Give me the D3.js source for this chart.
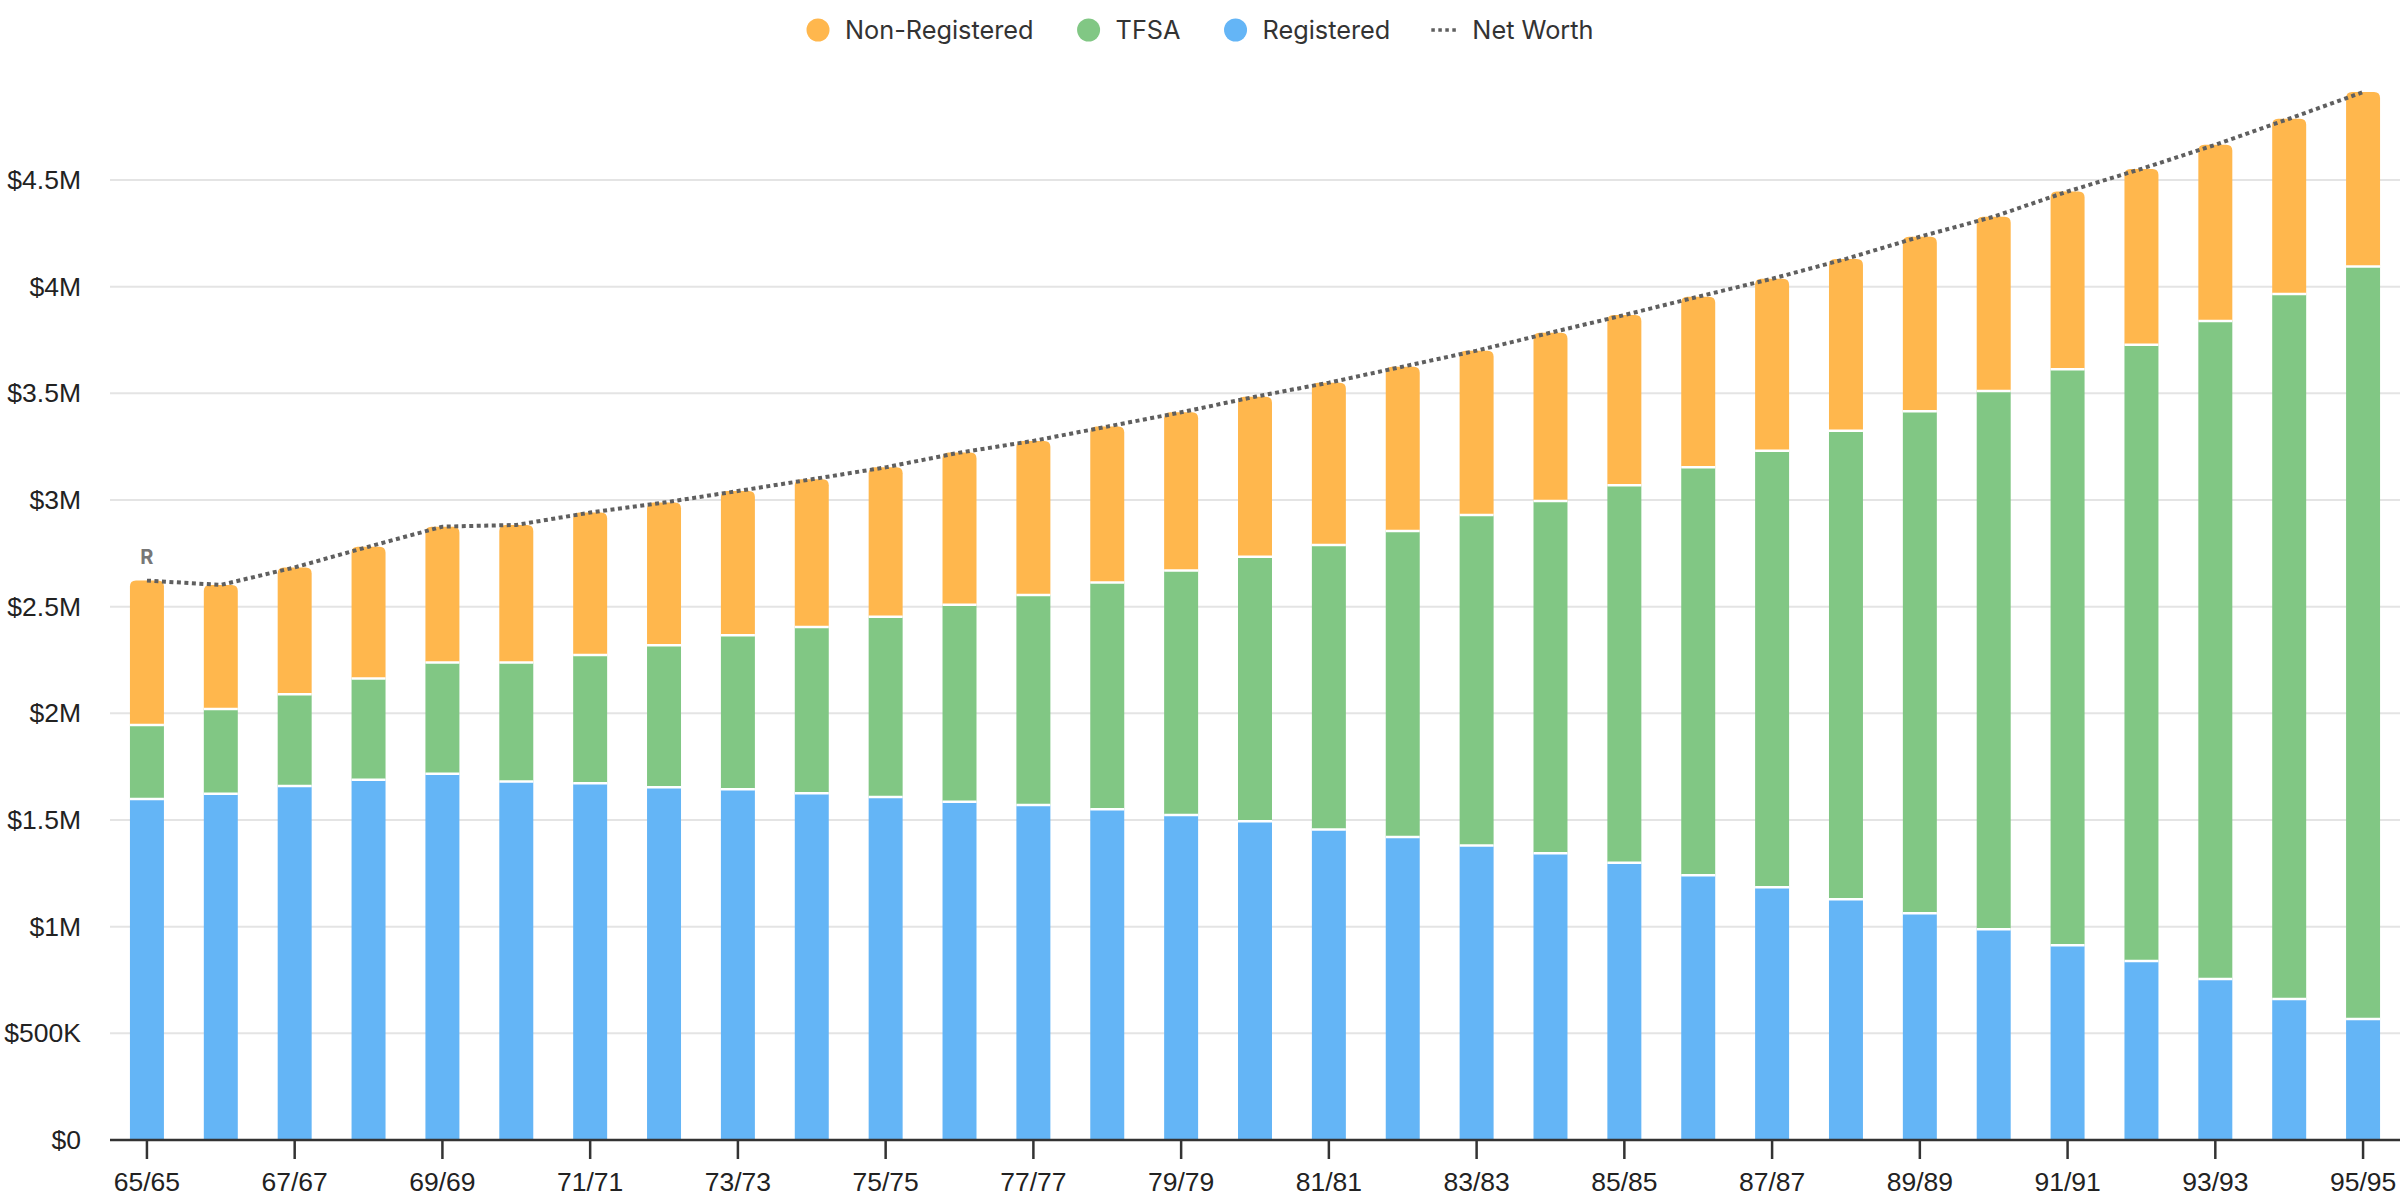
<!DOCTYPE html>
<html>
<head>
<meta charset="utf-8">
<script src="https://cdn.jsdelivr.net/npm/d3@7"></script>
<style>
  html, body { margin: 0; padding: 0; background: #fff; }
  svg { display: block; font-family: Inter, "Noto Sans", sans-serif; }
</style>
</head>
<body>
<svg id="chart" width="2400" height="1200"></svg>
<script>
// ages shown as "self/spouse"
const ages = d3.range(65, 96).map(a => a + '/' + a);

// values in $K
const registered = [1598, 1623, 1659, 1689, 1717, 1681, 1672, 1653, 1644, 1625, 1608,
    1586, 1570, 1550, 1523, 1494, 1456, 1420, 1381, 1344, 1300, 1241, 1185, 1128,
    1063, 988, 913, 839, 755, 661, 567];
const tfsa = [347, 397, 430, 474, 521, 557, 601, 666, 722, 780, 845, 923, 985, 1063,
    1146, 1240, 1333, 1435, 1549, 1651, 1769, 1912, 2046, 2196, 2353, 2523, 2700,
    2889, 3084, 3305, 3527];
const nonRegistered = [677, 582, 595, 618, 637, 645, 668, 669, 676, 692, 700, 713, 722,
    731, 742, 750, 761, 770, 770, 789, 798, 800, 806, 806, 818, 817, 833, 824, 826,
    821, 818];
const netWorth = [2622, 2602, 2684, 2781, 2875, 2883, 2941, 2988, 3042, 3097, 3153,
    3222, 3277, 3344, 3411, 3484, 3550, 3625, 3700, 3784, 3867, 3953, 4037, 4130,
    4234, 4328, 4446, 4552, 4665, 4787, 4912];

const yTicks = [0, 500, 1000, 1500, 2000, 2500, 3000, 3500, 4000, 4500];
const xTickLabels = ages.filter((d, i) => i % 2 === 0);

const series = [
    { name: 'Registered', values: registered, color: '#64B5F6' },
    { name: 'TFSA', values: tfsa, color: '#81C784' },
    { name: 'Non-Registered', values: nonRegistered, color: '#FFB74D' }
];

const svg = d3.select('#chart');
const plotLeft = 110, plotRight = 2400, plotTop = 73.3, plotBottom = 1140;

const x = d3.scaleBand().domain(ages).range([plotLeft, plotRight]).paddingInner(0.54).paddingOuter(0.27);
const y = d3.scaleLinear().domain([0, 5000]).range([plotBottom, plotTop]);

const fmt = v => v === 0 ? '$0' : v < 1000 ? '$' + v + 'K' : '$' + (v / 1000) + 'M';

// grid
svg.append('g')
    .selectAll('line')
    .data(yTicks.filter(v => v > 0))
    .join('line')
    .attr('x1', plotLeft).attr('x2', plotRight)
    .attr('y1', d => y(d)).attr('y2', d => y(d))
    .attr('stroke', '#e4e4e4')
    .attr('stroke-width', 2);

// y labels
const yAxis = svg.append('g')
    .attr('transform', `translate(${plotLeft},0)`)
    .call(d3.axisLeft(y).tickValues(yTicks).tickFormat(fmt).tickSize(0).tickPadding(29));
yAxis.select('.domain').remove();
yAxis.selectAll('text').attr('font-size', 26.5).attr('fill', '#222').attr('font-family', null);

// stacked bars
const stack = ages.map((a, i) => {
    let base = 0;
    return series.map((s, k) => {
        const seg = { age: a, y0: base, y1: base + s.values[i], color: s.color, topmost: k === series.length - 1 };
        base += s.values[i];
        return seg;
    });
}).flat();

const bw = x.bandwidth();
const rad = 6;

svg.append('g')
    .selectAll('path')
    .data(stack)
    .join('path')
    .attr('fill', d => d.color)
    .attr('d', d => {
        const x0 = x(d.age), x1 = x0 + bw;
        const yb = y(d.y0);
        const yt = y(d.y1);
        if (!d.topmost) {
            return `M${x0},${yb}V${yt}H${x1}V${yb}Z`;
        }
        return `M${x0},${yb}V${yt + rad}Q${x0},${yt} ${x0 + rad},${yt}H${x1 - rad}Q${x1},${yt} ${x1},${yt + rad}V${yb}Z`;
    });

// white gaps between segments
svg.append('g')
    .selectAll('line')
    .data(stack.filter(d => d.y0 > 0))
    .join('line')
    .attr('x1', d => x(d.age)).attr('x2', d => x(d.age) + bw)
    .attr('y1', d => y(d.y0)).attr('y2', d => y(d.y0))
    .attr('stroke', '#fff')
    .attr('stroke-width', 2.5);

// x axis
const xAxis = svg.append('g')
    .attr('transform', `translate(0,${plotBottom})`)
    .call(d3.axisBottom(x).tickValues(xTickLabels).tickSize(19).tickPadding(13).tickSizeOuter(0));
xAxis.select('.domain').attr('stroke', '#333').attr('stroke-width', 2.5)
    .attr('d', `M${plotLeft},0H${plotRight}`);
xAxis.selectAll('.tick line').attr('stroke', '#333').attr('stroke-width', 2.5);
xAxis.selectAll('text').attr('font-size', 26.5).attr('fill', '#222').attr('font-family', null);

// net worth line
const line = d3.line()
    .x((d, i) => x(ages[i]) + bw / 2)
    .y(d => y(d));

svg.append('path')
    .datum(netWorth)
    .attr('d', line)
    .attr('fill', 'none')
    .attr('stroke', '#5f5f5f')
    .attr('stroke-width', 4)
    .attr('stroke-dasharray', '4,3.5');

// retirement marker
svg.append('text')
    .attr('x', x(ages[0]) + bw / 2)
    .attr('y', y(netWorth[0]) - 17)
    .attr('text-anchor', 'middle')
    .attr('font-size', 20)
    .attr('font-weight', 'bold')
    .attr('fill', '#777')
    .text('R');

// legend
const legendItems = [
    { name: 'Non-Registered', color: '#FFB74D', type: 'dot' },
    { name: 'TFSA', color: '#81C784', type: 'dot' },
    { name: 'Registered', color: '#64B5F6', type: 'dot' },
    { name: 'Net Worth', color: '#5f5f5f', type: 'line' }
];
const legend = svg.append('g');
let cx = 0;
legendItems.forEach(item => {
    const g = legend.append('g').attr('transform', `translate(${cx},0)`);
    if (item.type === 'dot') {
        g.append('circle').attr('cx', 0).attr('cy', 30).attr('r', 11.5).attr('fill', item.color);
    } else {
        g.append('line').attr('x1', -14).attr('x2', 14).attr('y1', 30).attr('y2', 30)
            .attr('stroke', item.color).attr('stroke-width', 3.5).attr('stroke-dasharray', '3.5,3.5');
    }
    const t = g.append('text')
        .attr('x', 27).attr('y', 30).attr('dy', '0.35em')
        .attr('font-size', 25.3).attr('fill', '#333')
        .text(item.name);
    cx += 27 + t.node().getComputedTextLength() + 55;
});
const lb = legend.node().getBBox();
legend.attr('transform', `translate(${1200 - (lb.x + lb.width / 2)},0)`);
</script>
</body>
</html>
